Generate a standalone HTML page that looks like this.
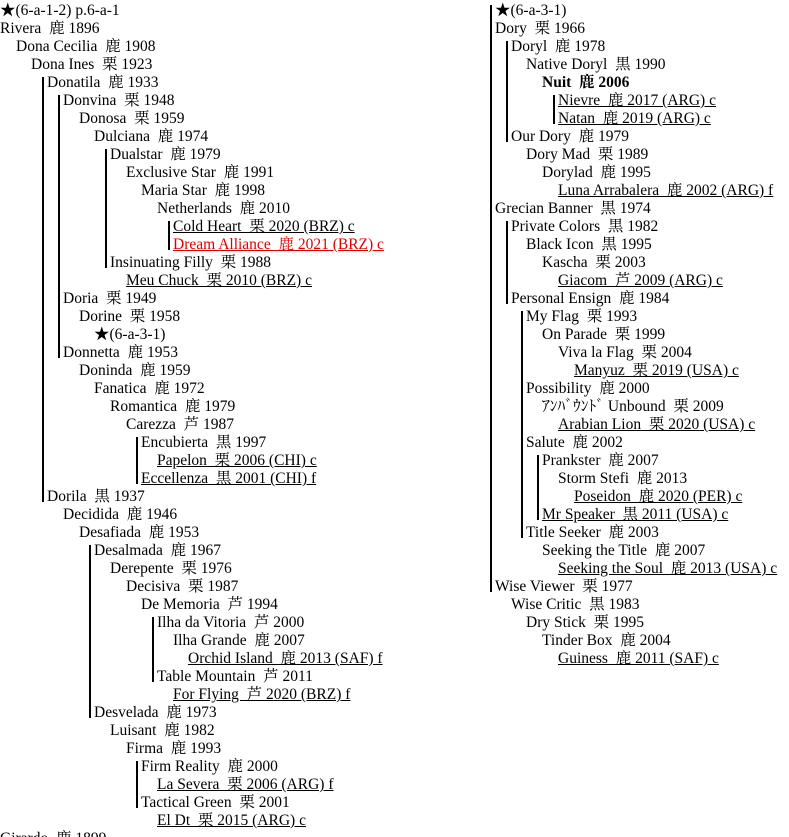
<!DOCTYPE html>
<html><head><meta charset="utf-8"><style>
html,body{margin:0;padding:0;background:#fff;width:789px;height:837px;overflow:hidden;position:relative}
.t{position:absolute;height:18px;line-height:18px;margin-top:2px;font-family:"Liberation Serif","Noto Serif CJK SC",serif;font-size:15.5px;color:#000;white-space:pre}
.u{text-decoration:underline}
.r{color:#e00000}
.b{font-weight:bold}
.l{position:absolute;width:2px;background:#000}
</style></head><body>
<div class="t" style="top:0px;left:0px">★(6-a-1-2) p.6-a-1</div>
<div class="t" style="top:18px;left:0px">Rivera  鹿 1896</div>
<div class="t" style="top:36px;left:16px">Dona Cecilia  鹿 1908</div>
<div class="t" style="top:54px;left:31px">Dona Ines  栗 1923</div>
<div class="t" style="top:72px;left:47px">Donatila  鹿 1933</div>
<div class="t" style="top:90px;left:63px">Donvina  栗 1948</div>
<div class="t" style="top:108px;left:79px">Donosa  栗 1959</div>
<div class="t" style="top:126px;left:94px">Dulciana  鹿 1974</div>
<div class="t" style="top:144px;left:110px">Dualstar  鹿 1979</div>
<div class="t" style="top:162px;left:126px">Exclusive Star  鹿 1991</div>
<div class="t" style="top:180px;left:141px">Maria Star  鹿 1998</div>
<div class="t" style="top:198px;left:157px">Netherlands  鹿 2010</div>
<div class="t u" style="top:216px;left:173px">Cold Heart  栗 2020 (BRZ) c</div>
<div class="t u r" style="top:234px;left:173px">Dream Alliance  鹿 2021 (BRZ) c</div>
<div class="t" style="top:252px;left:110px">Insinuating Filly  栗 1988</div>
<div class="t u" style="top:270px;left:126px">Meu Chuck  栗 2010 (BRZ) c</div>
<div class="t" style="top:288px;left:63px">Doria  栗 1949</div>
<div class="t" style="top:306px;left:79px">Dorine  栗 1958</div>
<div class="t" style="top:324px;left:94px">★(6-a-3-1)</div>
<div class="t" style="top:342px;left:63px">Donnetta  鹿 1953</div>
<div class="t" style="top:360px;left:79px">Doninda  鹿 1959</div>
<div class="t" style="top:378px;left:94px">Fanatica  鹿 1972</div>
<div class="t" style="top:396px;left:110px">Romantica  鹿 1979</div>
<div class="t" style="top:414px;left:126px">Carezza  芦 1987</div>
<div class="t" style="top:432px;left:141px">Encubierta  黒 1997</div>
<div class="t u" style="top:450px;left:157px">Papelon  栗 2006 (CHI) c</div>
<div class="t u" style="top:468px;left:141px">Eccellenza  黒 2001 (CHI) f</div>
<div class="t" style="top:486px;left:47px">Dorila  黒 1937</div>
<div class="t" style="top:504px;left:63px">Decidida  鹿 1946</div>
<div class="t" style="top:522px;left:79px">Desafiada  鹿 1953</div>
<div class="t" style="top:540px;left:94px">Desalmada  鹿 1967</div>
<div class="t" style="top:558px;left:110px">Derepente  栗 1976</div>
<div class="t" style="top:576px;left:126px">Decisiva  栗 1987</div>
<div class="t" style="top:594px;left:141px">De Memoria  芦 1994</div>
<div class="t" style="top:612px;left:157px">Ilha da Vitoria  芦 2000</div>
<div class="t" style="top:630px;left:173px">Ilha Grande  鹿 2007</div>
<div class="t u" style="top:648px;left:188px">Orchid Island  鹿 2013 (SAF) f</div>
<div class="t" style="top:666px;left:157px">Table Mountain  芦 2011</div>
<div class="t u" style="top:684px;left:173px">For Flying  芦 2020 (BRZ) f</div>
<div class="t" style="top:702px;left:94px">Desvelada  鹿 1973</div>
<div class="t" style="top:720px;left:110px">Luisant  鹿 1982</div>
<div class="t" style="top:738px;left:126px">Firma  鹿 1993</div>
<div class="t" style="top:756px;left:141px">Firm Reality  鹿 2000</div>
<div class="t u" style="top:774px;left:157px">La Severa  栗 2006 (ARG) f</div>
<div class="t" style="top:792px;left:141px">Tactical Green  栗 2001</div>
<div class="t u" style="top:810px;left:157px">El Dt  栗 2015 (ARG) c</div>
<div class="t" style="top:828px;left:0px">Girardo  鹿 1899</div>

<div class="l" style="left:42px;top:77px;height:425px"></div>
<div class="l" style="left:58px;top:95px;height:263px"></div>
<div class="l" style="left:105px;top:149px;height:119px"></div>
<div class="l" style="left:168px;top:221px;height:29px"></div>
<div class="l" style="left:136px;top:437px;height:47px"></div>
<div class="l" style="left:89px;top:545px;height:173px"></div>
<div class="l" style="left:152px;top:617px;height:65px"></div>
<div class="l" style="left:136px;top:761px;height:47px"></div>

<div class="t" style="top:0px;left:495px">★(6-a-3-1)</div>
<div class="t" style="top:18px;left:495px">Dory  栗 1966</div>
<div class="t" style="top:36px;left:511px">Doryl  鹿 1978</div>
<div class="t" style="top:54px;left:526px">Native Doryl  黒 1990</div>
<div class="t b" style="top:72px;left:542px">Nuit  鹿 2006</div>
<div class="t u" style="top:90px;left:558px">Nievre  鹿 2017 (ARG) c</div>
<div class="t u" style="top:108px;left:558px">Natan  鹿 2019 (ARG) c</div>
<div class="t" style="top:126px;left:511px">Our Dory  鹿 1979</div>
<div class="t" style="top:144px;left:526px">Dory Mad  栗 1989</div>
<div class="t" style="top:162px;left:542px">Dorylad  鹿 1995</div>
<div class="t u" style="top:180px;left:558px">Luna Arrabalera  鹿 2002 (ARG) f</div>
<div class="t" style="top:198px;left:495px">Grecian Banner  黒 1974</div>
<div class="t" style="top:216px;left:511px">Private Colors  黒 1982</div>
<div class="t" style="top:234px;left:526px">Black Icon  黒 1995</div>
<div class="t" style="top:252px;left:542px">Kascha  栗 2003</div>
<div class="t u" style="top:270px;left:558px">Giacom  芦 2009 (ARG) c</div>
<div class="t" style="top:288px;left:511px">Personal Ensign  鹿 1984</div>
<div class="t" style="top:306px;left:526px">My Flag  栗 1993</div>
<div class="t" style="top:324px;left:542px">On Parade  栗 1999</div>
<div class="t" style="top:342px;left:558px">Viva la Flag  栗 2004</div>
<div class="t u" style="top:360px;left:574px">Manyuz  栗 2019 (USA) c</div>
<div class="t" style="top:378px;left:526px">Possibility  鹿 2000</div>
<div class="t" style="top:396px;left:542px">ｱﾝﾊﾞｳﾝﾄﾞ Unbound  栗 2009</div>
<div class="t u" style="top:414px;left:558px">Arabian Lion  栗 2020 (USA) c</div>
<div class="t" style="top:432px;left:526px">Salute  鹿 2002</div>
<div class="t" style="top:450px;left:542px">Prankster  鹿 2007</div>
<div class="t" style="top:468px;left:558px">Storm Stefi  鹿 2013</div>
<div class="t u" style="top:486px;left:574px">Poseidon  鹿 2020 (PER) c</div>
<div class="t u" style="top:504px;left:542px">Mr Speaker  黒 2011 (USA) c</div>
<div class="t" style="top:522px;left:526px">Title Seeker  鹿 2003</div>
<div class="t" style="top:540px;left:542px">Seeking the Title  鹿 2007</div>
<div class="t u" style="top:558px;left:558px">Seeking the Soul  鹿 2013 (USA) c</div>
<div class="t" style="top:576px;left:495px">Wise Viewer  栗 1977</div>
<div class="t" style="top:594px;left:511px">Wise Critic  黒 1983</div>
<div class="t" style="top:612px;left:526px">Dry Stick  栗 1995</div>
<div class="t" style="top:630px;left:542px">Tinder Box  鹿 2004</div>
<div class="t u" style="top:648px;left:558px">Guiness  鹿 2011 (SAF) c</div>

<div class="l" style="left:490px;top:5px;height:587px"></div>
<div class="l" style="left:506px;top:41px;height:101px"></div>
<div class="l" style="left:553px;top:95px;height:29px"></div>
<div class="l" style="left:506px;top:221px;height:83px"></div>
<div class="l" style="left:521px;top:311px;height:227px"></div>
<div class="l" style="left:537px;top:455px;height:65px"></div>
</body></html>
